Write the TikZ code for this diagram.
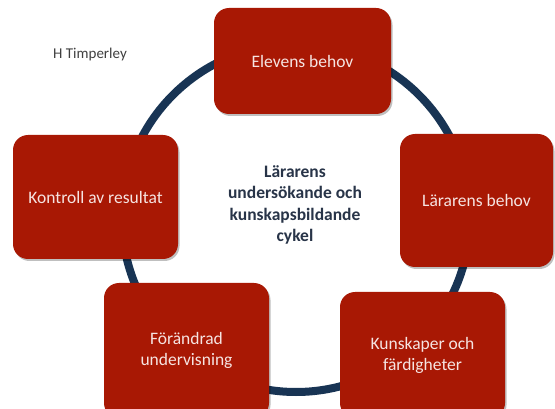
\documentclass[tikz,border=0pt]{standalone}
\usepackage{fontspec}
\setmainfont{Carlito}
\usetikzlibrary{shadows}
\definecolor{boxred}{RGB}{168,24,4}
\definecolor{ringblue}{RGB}{24,52,84}
\definecolor{boxtext}{RGB}{246,228,226}
\definecolor{midtext}{RGB}{40,52,72}
\begin{document}
\begin{tikzpicture}[x=1pt,y=-1pt,
  stage/.style={rectangle, rounded corners=15pt, fill=boxred, text=boxtext,
    align=center, inner sep=0pt, font=\fontsize{17.5}{21}\selectfont,
    drop shadow={shadow xshift=1.5pt, shadow yshift=-2pt, opacity=0.25, fill=black}},
  ring/.style={circle, draw=ringblue, line width=8pt, inner sep=0pt}]
\clip (0,0) rectangle (555,409);
\fill[white] (0,0) rectangle (555,409);
\node[ring, minimum size=348pt] (cyc) at (296,218) {};
\node[align=center, text=midtext, font=\bfseries\fontsize{17.5}{21.5}\selectfont] (mid) at (295,205)
  {Lärarens\\undersökande och\\kunskapsbildande\\cykel};
\node[text=black!75, font=\fontsize{15}{16}\selectfont] (auth) at (90,55) {H Timperley};
\node[stage, minimum width=177pt, minimum height=106pt] (elev) at (302.5,61) {Elevens behov};
\node[stage, minimum width=153pt, minimum height=133pt] (larb) at (476.5,200.5) {Lärarens behov};
\node[stage, minimum width=165pt, minimum height=126pt] (kuns) at (422.5,355) {Kunskaper och\\färdigheter};
\node[stage, minimum width=165pt, minimum height=135pt] (forn) at (186.5,350.5) {Förändrad\\undervisning};
\node[stage, minimum width=165pt, minimum height=124pt] (kont) at (95.5,197) {Kontroll av resultat};
\end{tikzpicture}
\end{document}
